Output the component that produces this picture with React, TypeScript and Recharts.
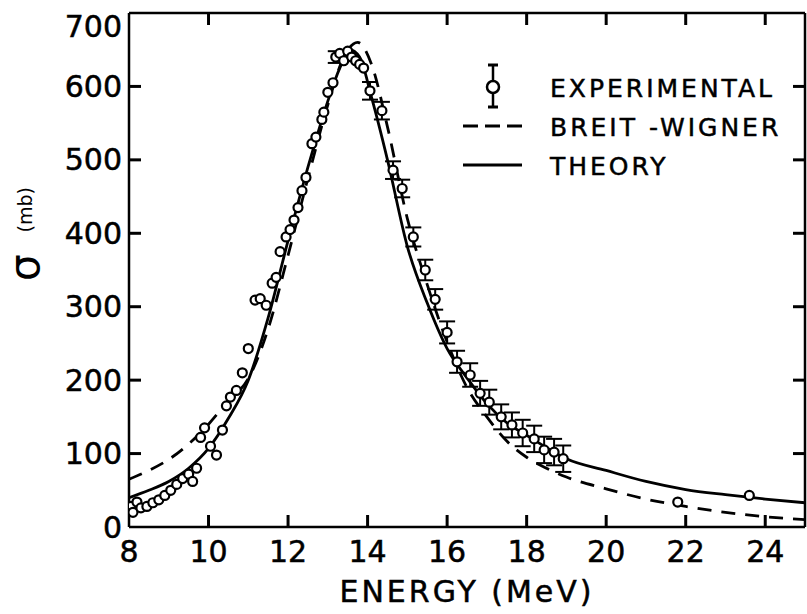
import React from 'react';
import { ComposedChart, Line, Scatter, ErrorBar, XAxis, YAxis, Legend, ReferenceLine } from 'recharts';

// axis ticks
const energyTicks = [8, 10, 12, 14, 16, 18, 20, 22, 24];
const sigmaTicks = [0, 100, 200, 300, 400, 500, 600, 700];
const legendLabels = ['EXPERIMENTAL', 'BREIT -WIGNER', 'THEORY'];
const E_MIN = 8;
const E_MAX = 25;
const S_MAX = 700;

// theory curve (solid)
const theory = [
  { e: 8, s: 40 }, { e: 8.5, s: 50 }, { e: 9, s: 62 }, { e: 9.5, s: 80 }, { e: 10, s: 107 },
  { e: 10.5, s: 148 }, { e: 11, s: 200 }, { e: 11.5, s: 285 }, { e: 12, s: 390 }, { e: 12.5, s: 490 },
  { e: 13, s: 580 }, { e: 13.3, s: 625 }, { e: 13.55, s: 650 }, { e: 13.8, s: 640 }, { e: 14.1, s: 585 },
  { e: 14.5, s: 500 }, { e: 15, s: 382 }, { e: 15.5, s: 305 }, { e: 16, s: 243 }, { e: 16.5, s: 203 },
  { e: 17, s: 168 }, { e: 17.5, s: 142 }, { e: 18, s: 125 }, { e: 18.5, s: 108 }, { e: 19, s: 93 },
  { e: 20, s: 77 }, { e: 21, s: 62 }, { e: 22, s: 51 }, { e: 23, s: 44 }, { e: 24, s: 38 }, { e: 25, s: 33 },
];

// Breit-Wigner curve (dashed)
const breitWigner = [
  { e: 8, s: 65 }, { e: 8.5, s: 77 }, { e: 9, s: 92 }, { e: 9.5, s: 113 }, { e: 10, s: 140 },
  { e: 10.5, s: 172 }, { e: 11, s: 202 }, { e: 11.5, s: 270 }, { e: 12, s: 370 }, { e: 12.5, s: 475 },
  { e: 13, s: 575 }, { e: 13.4, s: 640 }, { e: 13.75, s: 660 }, { e: 14.1, s: 630 }, { e: 14.5, s: 545 },
  { e: 15, s: 420 }, { e: 15.5, s: 330 }, { e: 16, s: 252 }, { e: 16.5, s: 190 }, { e: 17, s: 150 },
  { e: 17.5, s: 117 }, { e: 18, s: 95 }, { e: 18.5, s: 80 }, { e: 19, s: 68 }, { e: 20, s: 52 },
  { e: 21, s: 38 }, { e: 22, s: 28 }, { e: 23, s: 20 }, { e: 24, s: 14 }, { e: 25, s: 10 },
];

// experimental points; error bars only visible above the peak
const experimental = [
  { e: 8.05, s: 28, err: 0 }, { e: 8.1, s: 20, err: 0 }, { e: 8.2, s: 34, err: 0 }, { e: 8.3, s: 26, err: 0 },
  { e: 8.45, s: 28, err: 0 }, { e: 8.6, s: 33, err: 0 }, { e: 8.75, s: 37, err: 0 }, { e: 8.9, s: 43, err: 0 },
  { e: 9.05, s: 50, err: 0 }, { e: 9.2, s: 58, err: 0 }, { e: 9.35, s: 66, err: 0 }, { e: 9.5, s: 72, err: 0 },
  { e: 9.6, s: 62, err: 0 }, { e: 9.7, s: 80, err: 0 }, { e: 9.8, s: 122, err: 0 }, { e: 9.9, s: 135, err: 0 },
  { e: 10.05, s: 110, err: 0 }, { e: 10.2, s: 98, err: 0 }, { e: 10.35, s: 132, err: 0 }, { e: 10.45, s: 165, err: 0 },
  { e: 10.55, s: 177, err: 0 }, { e: 10.7, s: 186, err: 0 }, { e: 10.85, s: 210, err: 0 }, { e: 11.0, s: 243, err: 0 },
  { e: 11.17, s: 309, err: 0 }, { e: 11.3, s: 311, err: 0 }, { e: 11.45, s: 302, err: 0 }, { e: 11.6, s: 332, err: 0 },
  { e: 11.7, s: 340, err: 0 }, { e: 11.8, s: 375, err: 0 }, { e: 11.95, s: 395, err: 0 }, { e: 12.05, s: 405, err: 0 },
  { e: 12.15, s: 418, err: 0 }, { e: 12.25, s: 435, err: 0 }, { e: 12.35, s: 458, err: 0 }, { e: 12.45, s: 476, err: 0 },
  { e: 12.6, s: 522, err: 0 }, { e: 12.7, s: 531, err: 0 }, { e: 12.85, s: 555, err: 0 }, { e: 12.9, s: 565, err: 0 },
  { e: 13.0, s: 592, err: 0 }, { e: 13.13, s: 605, err: 0 }, { e: 13.2, s: 640, err: 8 }, { e: 13.3, s: 645, err: 0 },
  { e: 13.4, s: 635, err: 0 }, { e: 13.5, s: 648, err: 0 }, { e: 13.6, s: 640, err: 0 }, { e: 13.7, s: 635, err: 0 },
  { e: 13.8, s: 630, err: 0 }, { e: 13.9, s: 625, err: 0 }, { e: 14.06, s: 594, err: 12 }, { e: 14.36, s: 567, err: 12 },
  { e: 14.64, s: 486, err: 12 }, { e: 14.87, s: 461, err: 12 }, { e: 15.15, s: 395, err: 13 }, { e: 15.45, s: 350, err: 14 },
  { e: 15.7, s: 310, err: 14 }, { e: 16.0, s: 265, err: 15 }, { e: 16.25, s: 225, err: 15 }, { e: 16.58, s: 207, err: 16 },
  { e: 16.83, s: 182, err: 17 }, { e: 17.06, s: 170, err: 17 }, { e: 17.36, s: 150, err: 17 }, { e: 17.63, s: 139, err: 17 },
  { e: 17.9, s: 128, err: 18 }, { e: 18.19, s: 120, err: 18 }, { e: 18.44, s: 105, err: 18 }, { e: 18.69, s: 102, err: 18 },
  { e: 18.92, s: 93, err: 18 }, { e: 21.8, s: 34, err: 0 }, { e: 23.6, s: 43, err: 0 },
];

const FONT = '"DejaVu Sans", "Liberation Sans", sans-serif';
const INK = '#000';
const TICK_LEN = 12;

// inward tick marks on all four sides, placed through the chart's own scales
const innerX = energyTicks.filter((v) => v > E_MIN && v < E_MAX);
const innerY = sigmaTicks.filter((v) => v > 0 && v < S_MAX);
const tickMarks = [
  ...innerX.map((v) => ({ e: v, s: 0, dx: 0, dy: -1 })),
  ...innerX.map((v) => ({ e: v, s: S_MAX, dx: 0, dy: 1 })),
  ...innerY.map((v) => ({ e: E_MIN, s: v, dx: 1, dy: 0 })),
  ...innerY.map((v) => ({ e: E_MAX, s: v, dx: -1, dy: 0 })),
];

const TickMark = (props: any) => {
  const { cx, cy, payload } = props;
  if (cx == null || cy == null || !payload) return null;
  return (
    <line x1={cx} y1={cy} x2={cx + payload.dx * TICK_LEN} y2={cy + payload.dy * TICK_LEN}
      stroke={INK} strokeWidth={3} />
  );
};

const LeftLabel = (props: any) => {
  const { x, y, payload } = props;
  // the top label sits a little lower, as in the original figure
  const ty = Math.max(y, 26);
  return (
    <text x={x} y={ty} textAnchor="end" dominantBaseline="central" fontSize={30} fontFamily={FONT}
      fill={INK} stroke={INK} strokeWidth={0.5}>
      {payload.value}
    </text>
  );
};

const BottomLabel = (props: any) => {
  const { x, y, payload } = props;
  return (
    <text x={x} y={y} textAnchor="middle" dominantBaseline="central" fontSize={30} fontFamily={FONT}
      fill={INK} stroke={INK} strokeWidth={0.5}>
      {payload.value}
    </text>
  );
};

const OpenCircle = (props: any) => {
  const { cx, cy } = props;
  if (cx == null || cy == null) return null;
  return <circle cx={cx} cy={cy} r={4.5} fill="#fff" stroke={INK} strokeWidth={2.2} />;
};

const LegendBox = () => (
  <svg width={350} height={130} style={{ display: 'block' }}>
    <line x1={38} y1={10} x2={38} y2={52} stroke={INK} strokeWidth={2.5} />
    <line x1={33} y1={10} x2={43} y2={10} stroke={INK} strokeWidth={3} />
    <line x1={33} y1={52} x2={43} y2={52} stroke={INK} strokeWidth={3} />
    <circle cx={38} cy={32} r={6} fill="#fff" stroke={INK} strokeWidth={2.5} />
    <line x1={8} y1={71} x2={67} y2={71} stroke={INK} strokeWidth={3} strokeDasharray="15 7" />
    <line x1={8} y1={110} x2={67} y2={110} stroke={INK} strokeWidth={3} />
    {legendLabels.map((label, i) => (
      <text key={label} x={95} y={42 + i * 39} fontSize={25} letterSpacing={3} fontFamily={FONT}
        fill={INK} stroke={INK} strokeWidth={0.5}>
        {label}
      </text>
    ))}
  </svg>
);

const XTitle = (props: any) => {
  const { viewBox } = props;
  return (
    <text x={viewBox.x + viewBox.width / 2} y={602} textAnchor="middle" fontSize={30} letterSpacing={3}
      fontFamily={FONT} fill={INK} stroke={INK} strokeWidth={0.5}>
      ENERGY (MeV)
    </text>
  );
};

const YTitle = () => (
  <text transform="translate(39, 281) rotate(-90)" fontFamily={FONT} fill={INK}>
    <tspan fontSize={42}>σ</tspan>
    <tspan fontSize={19} dx={22} dy={-7}>(mb)</tspan>
  </text>
);

export default function App() {
  return (
    <div style={{ position: 'absolute', left: 0, top: 0, width: 807, height: 614, background: '#fff' }}>
      <ComposedChart width={807} height={614} margin={{ top: 13, right: 2, left: 0, bottom: 0 }}>
        <XAxis
          dataKey="e"
          type="number"
          domain={[E_MIN, E_MAX]}
          ticks={energyTicks}
          interval={0}
          allowDataOverflow
          height={87}
          axisLine={{ stroke: INK, strokeWidth: 2.5 }}
          tickLine={false}
          tickSize={0}
          tickMargin={24}
          tick={<BottomLabel />}
          label={{ content: <XTitle /> }}
        />
        <YAxis
          type="number"
          domain={[0, S_MAX]}
          ticks={sigmaTicks}
          interval={0}
          allowDataOverflow
          width={129}
          axisLine={{ stroke: INK, strokeWidth: 2.5 }}
          tickLine={false}
          tickSize={0}
          tickMargin={7}
          tick={<LeftLabel />}
          label={{ content: <YTitle /> }}
        />

        {/* top and right edges of the frame */}
        <ReferenceLine y={S_MAX} stroke={INK} strokeWidth={2.5} ifOverflow="visible" />
        <ReferenceLine x={E_MAX} stroke={INK} strokeWidth={2.5} ifOverflow="visible" />

        <Line
          data={breitWigner}
          dataKey="s"
          type="monotone"
          stroke={INK}
          strokeWidth={2.8}
          strokeDasharray="14 10"
          dot={false}
          activeDot={false}
          isAnimationActive={false}
          name="BREIT -WIGNER"
        />
        <Line
          data={theory}
          dataKey="s"
          type="monotone"
          stroke={INK}
          strokeWidth={2.8}
          dot={false}
          activeDot={false}
          isAnimationActive={false}
          name="THEORY"
        />
        <Scatter data={tickMarks} dataKey="s" shape={<TickMark />} isAnimationActive={false} legendType="none" />
        <Scatter data={experimental} dataKey="s" shape={<OpenCircle />} isAnimationActive={false} name="EXPERIMENTAL">
          <ErrorBar dataKey="err" direction="y" width={8} stroke={INK} strokeWidth={2} isAnimationActive={false} />
        </Scatter>
        <Legend
          layout="vertical"
          align="center"
          verticalAlign="middle"
          content={() => <LegendBox />}
          wrapperStyle={{ left: 455, top: 55, width: 350, height: 130 }}
        />
      </ComposedChart>
    </div>
  );
}
